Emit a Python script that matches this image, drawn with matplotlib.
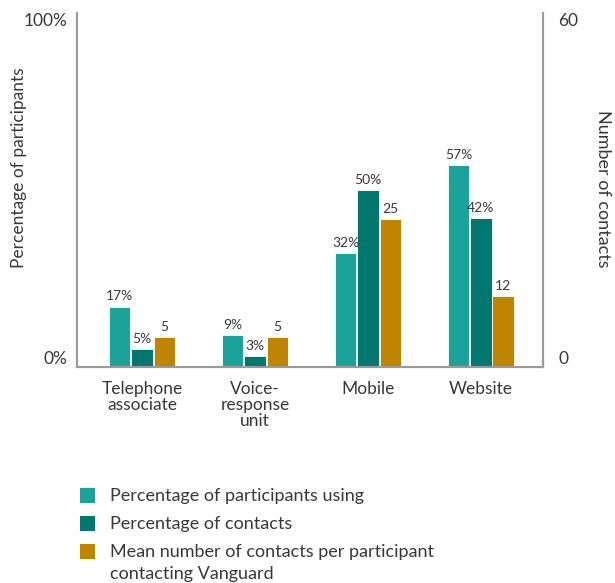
import numpy as np
import matplotlib
matplotlib.use("Agg")
import matplotlib.pyplot as plt
from matplotlib.patches import Rectangle

plt.rcParams['font.family'] = ['Lato', 'DejaVu Sans']

# Data
categories = ["Telephone\nassociate", "Voice-\nresponse\nunit", "Mobile", "Website"]
pct_participants = [17, 9, 32, 57]
pct_contacts = [5, 3, 50, 42]
mean_contacts = [5, 5, 25, 12]

series_labels = [
    "Percentage of participants using",
    "Percentage of contacts",
    "Mean number of contacts per participant\ncontacting Vanguard",
]

c_teal = "#1ba39b"
c_dark = "#00786f"
c_gold = "#c08400"
txt = "#383838"
gray = "#9a9a9a"
fs = 12.5

W, H = 615, 583
fig = plt.figure(figsize=(W / 100, H / 100), dpi=100)
ax = fig.add_axes([0.1252, 0.371, 0.7577, 0.607])
ax2 = ax.twinx()

x = np.arange(len(categories))
w = 0.19
step = 0.198

b1 = ax.bar(x - step, pct_participants, w, color=c_teal, edgecolor="white", linewidth=0.6)
b2 = ax.bar(x, pct_contacts, w, color=c_dark, edgecolor="white", linewidth=0.6)
b3 = ax2.bar(x + step, mean_contacts, w, color=c_gold, edgecolor="white", linewidth=0.6)

for bars, vals, suffix, a in [(b1, pct_participants, "%", ax), (b2, pct_contacts, "%", ax), (b3, mean_contacts, "", ax2)]:
    for b, v in zip(bars, vals):
        a.annotate(f"{v}{suffix}", (b.get_x() + b.get_width() / 2, b.get_height()),
                   xytext=(0, 3), textcoords="offset points", ha="center", va="bottom",
                   fontsize=10, color=txt)

ax.set_xlim(-0.575, 3.55)
ax.set_ylim(0, 100)
ax2.set_ylim(0, 60)

ax.set_yticks([0, 100])
ax.set_yticklabels(["0%", "100%"])
ax2.set_yticks([0, 60])
ax2.set_yticklabels(["0", "60"])
ax.tick_params(axis="y", length=0, pad=7, labelsize=fs, labelcolor=txt)
ax2.tick_params(axis="y", length=0, pad=11, labelsize=fs, labelcolor=txt)
for a in (ax, ax2):
    lbls = a.get_yticklabels()
    lbls[0].set_va("bottom")
    lbls[1].set_va("top")

ax.set_xticks(x)
ax.set_xticklabels(categories, fontsize=fs, color=txt, linespacing=1.0)
ax.tick_params(axis="x", length=0, pad=10)

for a in (ax, ax2):
    a.spines["top"].set_visible(False)
    for s in ("left", "right", "bottom"):
        a.spines[s].set_color(gray)
        a.spines[s].set_linewidth(1.5)

fig.text(0.031, 1 - 268 / H, "Percentage of participants", rotation=90,
         ha="center", va="bottom", fontsize=fs, color=txt)
fig.text(0.981, 1 - 110 / H, "Number of contacts", rotation=-90,
         ha="center", va="top", fontsize=13, color=txt)

# legend: square aligned with the first line of each entry
legend_colors = [c_teal, c_dark, c_gold]
row_y = [495, 523, 551]
for col, lab, ry in zip(legend_colors, series_labels, row_y):
    fig.patches.append(Rectangle((80 / W, 1 - (ry + 7.5) / H), 15 / W, 15 / H,
                                 transform=fig.transFigure, facecolor=col, edgecolor="none"))
    fig.text(110 / W, 1 - (ry - 6.5) / H, lab, ha="left", va="top", fontsize=13,
             color=txt, linespacing=1.4)

fig.savefig("out.png", dpi=100)
